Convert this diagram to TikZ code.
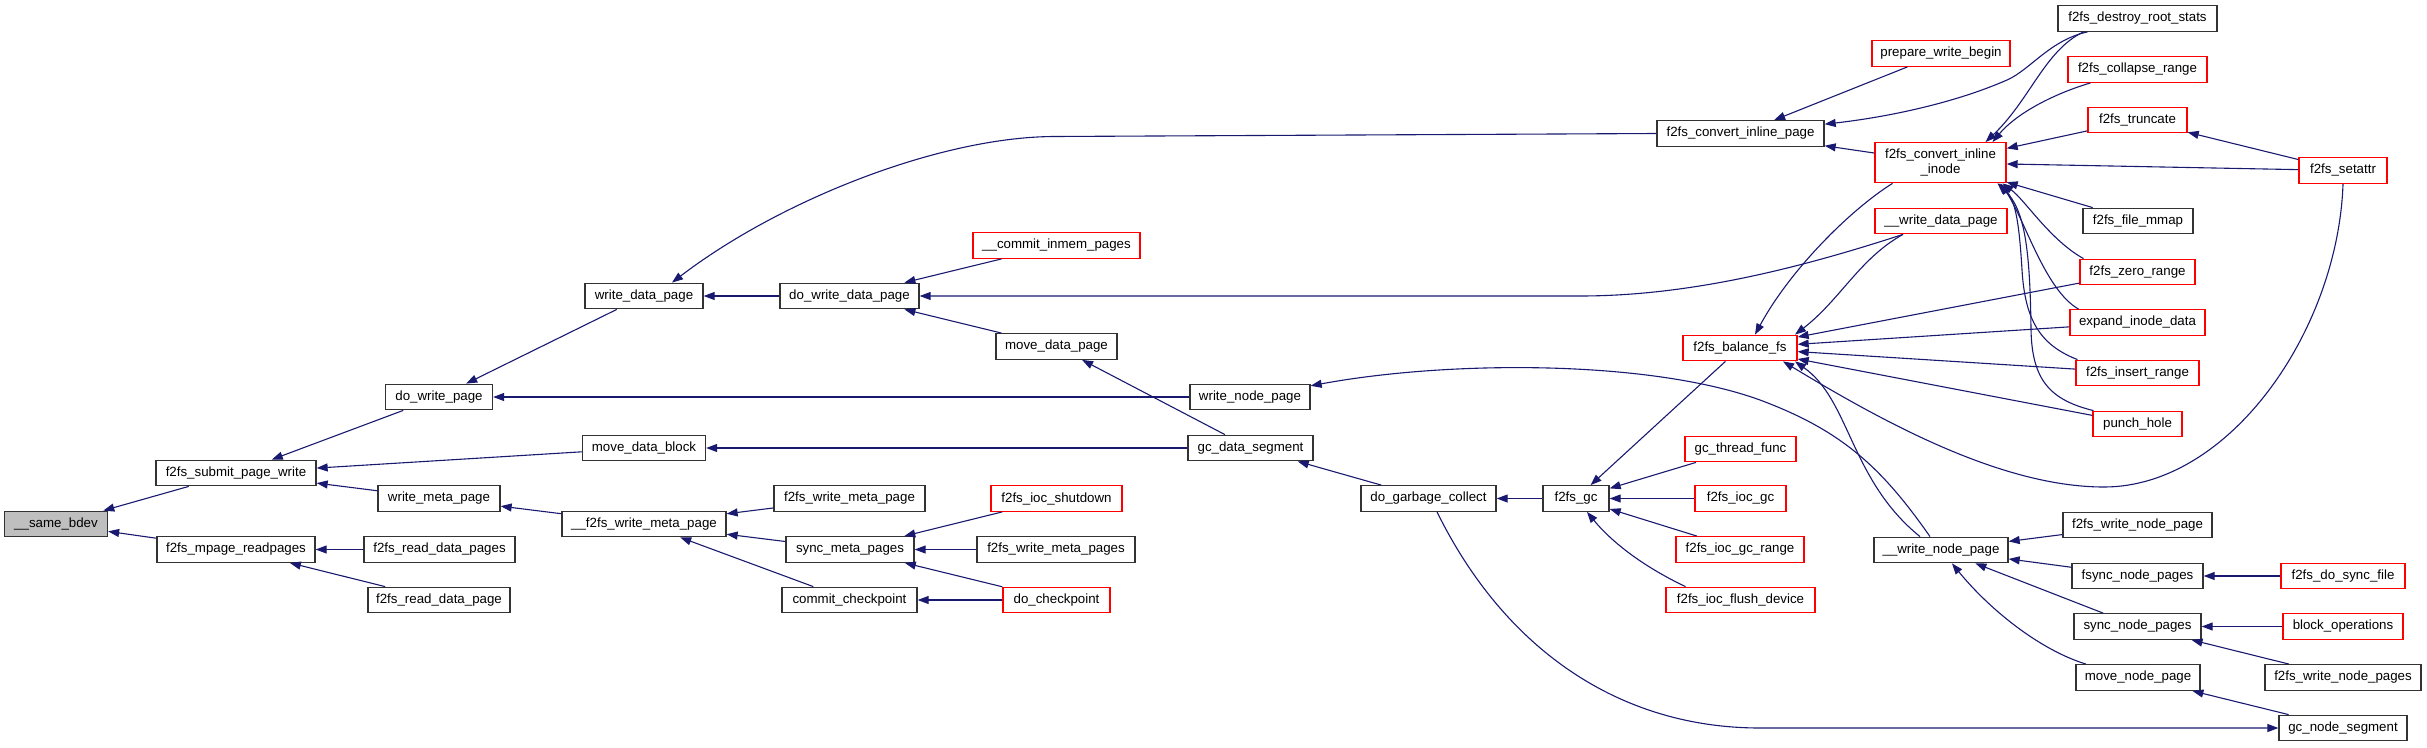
\documentclass[tikz,border=0pt]{standalone}
\usepackage{fontspec}
\setmainfont{Liberation Sans}
\usetikzlibrary{arrows.meta}
\definecolor{edgeblue}{HTML}{191970}
\definecolor{rootgray}{HTML}{BFBFBF}
\newcommand{\nodefont}{\fontsize{13.3}{15.5}\selectfont}
\tikzset{
  box/.style={draw=black!80, line width=1.3pt, fill=white, minimum height=25.5pt, inner sep=0pt, font=\nodefont, text=black},
  rbox/.style={box, draw=red},
  conn/.style={draw=edgeblue, line width=1.1pt, -{Triangle[length=11pt,width=8pt]}}
}
\begin{document}
\begin{tikzpicture}[x=1pt,y=-1pt]
\useasboundingbox (0,0) rectangle (2427,747);
% column 0-2
\node[box, fill=rootgray, minimum width=103pt] (same) at (56,524) {\_\_same\_bdev};
\node[box, minimum width=160pt] (submit) at (236,473) {f2fs\_submit\_page\_write};
\node[box, minimum width=158pt] (mpage) at (236,549.5) {f2fs\_mpage\_readpages};
\node[box, minimum width=107pt] (dowp) at (439,397) {do\_write\_page};
\node[box, minimum width=122pt] (wmp) at (439,498.5) {write\_meta\_page};
\node[box, minimum width=151pt] (rdps) at (439.5,549.5) {f2fs\_read\_data\_pages};
\node[box, minimum width=142pt] (rdp) at (439,600) {f2fs\_read\_data\_page};
% column 3
\node[box, minimum width=118pt] (wdp) at (644,296) {write\_data\_page};
\node[box, minimum width=123pt] (mdb) at (644,448) {move\_data\_block};
\node[box, minimum width=164pt] (fwmp) at (644,524) {\_\_f2fs\_write\_meta\_page};
% column 4
\node[box, minimum width=139pt] (dwdp) at (849.5,296) {do\_write\_data\_page};
\node[box, minimum width=151pt] (fwmeta) at (849.5,498.5) {f2fs\_write\_meta\_page};
\node[box, minimum width=128pt] (smp) at (850,549.5) {sync\_meta\_pages};
\node[box, minimum width=135pt] (cc) at (849.5,600) {commit\_checkpoint};
% column 5
\node[rbox, minimum width=167pt] (cim) at (1056.5,245.5) {\_\_commit\_inmem\_pages};
\node[box, minimum width=121pt] (mdp) at (1056.5,346.5) {move\_data\_page};
\node[rbox, minimum width=131pt] (shut) at (1056.5,498.5) {f2fs\_ioc\_shutdown};
\node[box, minimum width=158pt] (wmps) at (1056,549.5) {f2fs\_write\_meta\_pages};
\node[rbox, minimum width=107pt] (dcp) at (1056.5,600) {do\_checkpoint};
% column 6-8
\node[box, minimum width=120pt] (wnp) at (1250,397) {write\_node\_page};
\node[box, minimum width=125pt] (gds) at (1250.5,448) {gc\_data\_segment};
\node[box, minimum width=135pt] (dgc) at (1428.5,498.5) {do\_garbage\_collect};
\node[box, minimum width=66pt] (gc) at (1576,498.5) {f2fs\_gc};
% column 9
\node[box, minimum width=167pt] (cip) at (1740.5,133.5) {f2fs\_convert\_inline\_page};
\node[rbox, minimum width=114pt] (bal) at (1740,348) {f2fs\_balance\_fs};
\node[rbox, minimum width=111pt] (gtf) at (1740.5,449) {gc\_thread\_func};
\node[rbox, minimum width=91pt] (igc) at (1740.5,498.5) {f2fs\_ioc\_gc};
\node[rbox, minimum width=128pt] (igcr) at (1740,549.5) {f2fs\_ioc\_gc\_range};
\node[rbox, minimum width=149pt] (ifd) at (1740.5,600) {f2fs\_ioc\_flush\_device};
% column 10
\node[rbox, minimum width=138pt] (pwb) at (1941,53.5) {prepare\_write\_begin};
\node[rbox, minimum width=131pt, minimum height=40pt, align=center] (cii) at (1940.5,162.7) {f2fs\_convert\_inline\\\_inode};
\node[rbox, minimum width=132pt] (wdpp) at (1941,221) {\_\_write\_data\_page};
\node[box, minimum width=134pt] (wnpp) at (1941,550) {\_\_write\_node\_page};
% column 11
\node[box, minimum width=159pt] (drs) at (2137.5,18.5) {f2fs\_destroy\_root\_stats};
\node[rbox, minimum width=139pt] (col) at (2137.5,69.5) {f2fs\_collapse\_range};
\node[rbox, minimum width=99pt] (trunc) at (2137.5,120) {f2fs\_truncate};
\node[box, minimum width=110pt] (mmap) at (2138,221) {f2fs\_file\_mmap};
\node[rbox, minimum width=115pt] (zero) at (2137.5,272) {f2fs\_zero\_range};
\node[rbox, minimum width=135pt] (expand) at (2137.5,322.5) {expand\_inode\_data};
\node[rbox, minimum width=123pt] (insert) at (2137.5,373) {f2fs\_insert\_range};
\node[rbox, minimum width=89pt] (punch) at (2137.5,424) {punch\_hole};
\node[box, minimum width=149pt] (fwnp) at (2137.5,525) {f2fs\_write\_node\_page};
\node[box, minimum width=131pt] (fsync) at (2137.5,576) {fsync\_node\_pages};
\node[box, minimum width=127pt] (snp) at (2137.5,626.5) {sync\_node\_pages};
\node[box, minimum width=124pt] (mnp) at (2138,677.5) {move\_node\_page};
% column 12
\node[rbox, minimum width=88pt] (setattr) at (2343,170.5) {f2fs\_setattr};
\node[rbox, minimum width=124pt] (dsf) at (2343,576) {f2fs\_do\_sync\_file};
\node[rbox, minimum width=120pt] (bo) at (2343,626.5) {block\_operations};
\node[box, minimum width=156pt] (wnps) at (2343,677.5) {f2fs\_write\_node\_pages};
\node[box, minimum width=128pt] (gns) at (2343,728) {gc\_node\_segment};

% edges
\draw[conn] (submit) -- (same);
\draw[conn] (mpage) -- (same);
\draw[conn] (dowp) -- (submit);
\draw[conn] (mdb) -- (submit);
\draw[conn] (wmp) -- (submit);
\draw[conn] (rdps) -- (mpage);
\draw[conn] (rdp) -- (mpage);
\draw[conn] (wdp) -- (dowp);
\draw[conn] (wnp) -- (dowp);
\draw[conn] (dwdp) -- (wdp);
\draw[conn] (cip.west) -- (1054,136.5) .. controls (940,137) and (780,200) .. ([xshift=28]wdp.north);
\draw[conn] (cim) -- (dwdp);
\draw[conn] (mdp) -- (dwdp);
\draw[conn] ([xshift=-38]wdpp.south) .. controls (1800,268) and (1690,296) .. (1580,296) -- (dwdp);
\draw[conn] (gds) -- (mdp);
\draw[conn] (gds) -- (mdb);
\draw[conn] (fwmp) -- (wmp);
\draw[conn] (fwmeta) -- (fwmp);
\draw[conn] (smp) -- (fwmp);
\draw[conn] (cc) -- (fwmp);
\draw[conn] (shut) -- (smp);
\draw[conn] (wmps) -- (smp);
\draw[conn] (dcp) -- (smp);
\draw[conn] (dcp) -- (cc);
\draw[conn] ([xshift=-11]wnpp.north) .. controls (1880,465) and (1840,430) .. (1760,400) .. controls (1650,360) and (1450,360) .. (wnp);
\draw[conn] (dgc) -- (gds);
\draw[conn] (gc) -- (dgc);
\draw[conn] ([xshift=8.5]dgc.south) .. controls (1505,650) and (1620,728) .. (1760,728) -- (gns);
\draw[conn] (bal) -- (gc);
\draw[conn] (gtf) -- (gc);
\draw[conn] (igc) -- (gc);
\draw[conn] (igcr) -- (gc);
\draw[conn] ([xshift=-55]ifd.north) .. controls (1640,565) and (1610,540) .. (gc);
\draw[conn] (pwb) -- (cip);
\draw[conn] ([xshift=-50]drs.south) .. controls (2050,40) and (2030,70) .. (2007,80) .. controls (1950,105) and (1880,118) .. (cip);
\draw[conn] ([xshift=-54]drs.south) .. controls (2045,50) and (2030,100) .. ([xshift=45]cii.north);
\draw[conn] ([xshift=-47]col.south) .. controls (2050,95) and (2015,115) .. ([xshift=52]cii.north);
\draw[conn] (trunc) -- (cii);
\draw[conn] (setattr) -- (cii);
\draw[conn] (setattr) -- (trunc);
\draw[conn] (mmap) -- (cii);
\draw[conn] ([xshift=-54]zero.north) .. controls (2050,240) and (2025,200) .. ([xshift=62]cii.south);
\draw[conn] ([xshift=-59]expand.north) .. controls (2045,290) and (2025,220) .. ([xshift=60]cii.south);
\draw[conn] ([xshift=-60]insert.north) .. controls (2040,345) and (2025,320) .. (2022,270) .. controls (2019,220) and (2015,200) .. ([xshift=58]cii.south);
\draw[conn] ([xshift=-44]punch.north) .. controls (2050,400) and (2032,380) .. (2031,330) .. controls (2030,250) and (2025,210) .. ([xshift=57]cii.south);
\draw[conn] (cii) -- (cip);
\draw[conn] ([xshift=-48]cii.south) .. controls (1850,210) and (1790,270) .. ([xshift=15]bal.north);
\draw[conn] ([xshift=-38]wdpp.south) .. controls (1860,258) and (1840,300) .. ([xshift=55]bal.north);
\draw[conn] (zero) -- (bal);
\draw[conn] (expand) -- (bal);
\draw[conn] (insert) -- (bal);
\draw[conn] (punch) -- (bal);
\draw[conn] (setattr.south) .. controls (2338,330) and (2230,487) .. (2104,487) .. controls (2000,487) and (1880,420) .. ([xshift=43]bal.south);
\draw[conn] ([xshift=-21]wnpp.north) .. controls (1850,480) and (1850,400) .. ([xshift=55]bal.south);
\draw[conn] (fwnp) -- (wnpp);
\draw[conn] (fsync) -- (wnpp);
\draw[conn] (snp) -- (wnpp);
\draw[conn] ([xshift=-52]mnp.north) .. controls (2040,650) and (1990,610) .. (wnpp);
\draw[conn] (dsf) -- (fsync);
\draw[conn] (bo) -- (snp);
\draw[conn] (wnps) -- (snp);
\draw[conn] (gns) -- (mnp);
\end{tikzpicture}
\end{document}
